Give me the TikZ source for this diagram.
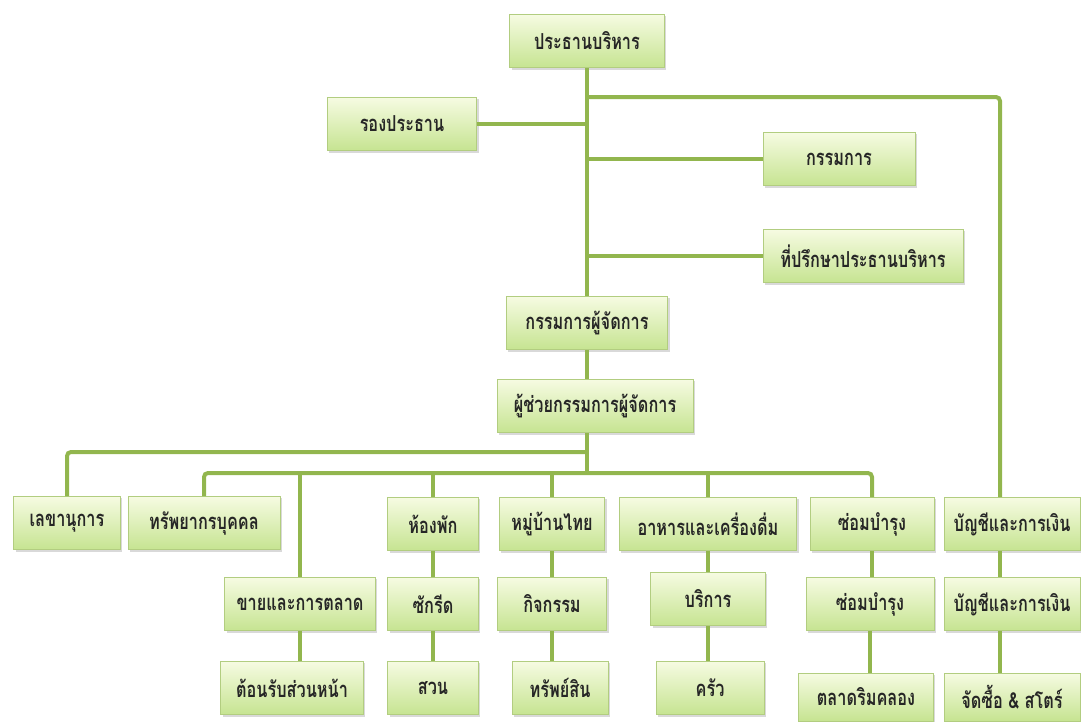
\documentclass[tikz,border=0pt]{standalone}
\usepackage{fontspec}
\newfontfamily\thaifont[Script=Thai, FakeStretch=0.74]{Loma}
\usepackage{xcolor}
\usepackage{tikz}
\usetikzlibrary{positioning, shadows}
\definecolor{linegreen}{RGB}{146,182,78}
\definecolor{boxtop}{RGB}{246,251,226}
\definecolor{boxbottom}{RGB}{198,228,145}
\definecolor{boxedge}{RGB}{178,205,128}

\begin{document}
\begin{tikzpicture}[x=0.75pt, y=-0.75pt, ultra thick]
    % Define styles
    \tikzstyle{unit} = [draw=boxedge, thin, rectangle, minimum height=40pt, inner sep=2pt, top color=boxtop, bottom color=boxbottom, drop shadow={opacity=0.3, shadow xshift=1.5pt, shadow yshift=-1.5pt}, font=\thaifont\bfseries\fontsize{16.5}{19}\selectfont, text=black!85]
    \tikzstyle{link} = [draw=linegreen, line width=3pt, rounded corners=3pt]

    \useasboundingbox (0,0) rectangle (1081,721);

    % TOP
    \node (ceo) [unit, minimum width=116pt] at (587,41) {ประธานบริหาร};
    \node (vp) [unit, minimum width=112pt] at (402,124) {รองประธาน};
    \node (board) [unit, minimum width=114pt] at (839,159) {กรรมการ};
    \node (adv) [unit, minimum width=150pt] at (863,256) {ที่ปรึกษาประธานบริหาร};
    \node (md) [unit, minimum width=121pt] at (587,323) {กรรมการผู้จัดการ};
    \node (ast) [unit, minimum width=147pt] at (595,406) {ผู้ช่วยกรรมการผู้จัดการ};
    \coordinate (toacc) at (1000,97);
    \coordinate (lane1) at (587,452);
    \coordinate (lane2) at (587,473);

    % DEPARTMENTS
    \node (sec) [unit, minimum width=80pt] at (67,523) {เลขานุการ};
    \node (hr) [unit, minimum width=114pt] at (204,523) {ทรัพยากรบุคคล};
    \node (room) [unit, minimum width=68pt] at (433,524) {ห้องพัก};
    \node (village) [unit, minimum width=79pt] at (552,524) {หมู่บ้านไทย};
    \node (food) [unit, minimum width=133pt] at (708,524) {อาหารและเครื่องดื่ม};
    \node (mnt1) [unit, minimum width=93pt] at (872,524) {ซ่อมบำรุง};
    \node (acc1) [unit, minimum width=102pt] at (1012,524) {บัญชีและการเงิน};

    \node (sales) [unit, minimum width=113pt] at (300,604) {ขายและการตลาด};
    \node (iron) [unit, minimum width=68pt] at (433,604) {ซักรีด};
    \node (act) [unit, minimum width=82pt] at (552,604) {กิจกรรม};
    \node (svc) [unit, minimum width=86pt] at (708,599) {บริการ};
    \node (mnt2) [unit, minimum width=96pt] at (870,604) {ซ่อมบำรุง};
    \node (acc2) [unit, minimum width=102pt] at (1012,604) {บัญชีและการเงิน};

    \node (front) [unit, minimum width=107pt] at (292,688) {ต้อนรับส่วนหน้า};
    \node (garden) [unit, minimum width=68pt] at (433,688) {สวน};
    \node (prop) [unit, minimum width=72pt] at (560,688) {ทรัพย์สิน};
    \node (kitchen) [unit, minimum width=81pt] at (710,688) {ครัว};
    \node (market) [unit, minimum width=101pt, minimum height=36pt] at (866,697) {ตลาดริมคลอง};
    \node (buy) [unit, minimum width=102pt, minimum height=36pt] at (1012,697) {จัดซื้อ \& สโตร์};

    % CONNECTIONS
    \draw[link] (ceo.south) -- (ceo.south |- md.north);
    \draw[link] (vp.east) -- (vp.east -| ceo.south);
    \draw[link] (board.west) -- (board.west -| ceo.south);
    \draw[link] (adv.west) -- (adv.west -| ceo.south);
    \draw[link] (ceo.south |- toacc) -- (toacc) -- (toacc |- acc1.north);
    \draw[link] (md.south) -- (md.south |- ast.north);
    \draw[link] (ast.south -| lane2) -- (lane2);

    % Department lanes
    \draw[link] (lane1) -| (sec.north);
    \draw[link] (hr.north) |- (lane2) -| (mnt1.north);
    \draw[link] (sales.north |- lane2) -- (sales.north);
    \draw[link] (room.north |- lane2) -- (room.north);
    \draw[link] (village.north |- lane2) -- (village.north);
    \draw[link] (food.north |- lane2) -- (food.north);

    % Columns
    \draw[link] (sales.south) -- (sales.south |- front.north);
    \draw[link] (room.south) -- (iron.north);
    \draw[link] (iron.south) -- (garden.north);
    \draw[link] (village.south) -- (act.north);
    \draw[link] (act.south) -- (act.south |- prop.north);
    \draw[link] (food.south) -- (svc.north);
    \draw[link] (svc.south) -- (svc.south |- kitchen.north);
    \draw[link] (mnt1.south) -- (mnt1.south |- mnt2.north);
    \draw[link] (mnt2.south) -- (mnt2.south |- market.north);
    \draw[link] (acc1.south -| toacc) -- (toacc |- acc2.north);
    \draw[link] (acc2.south -| toacc) -- (toacc |- buy.north);

\end{tikzpicture}
\end{document}
